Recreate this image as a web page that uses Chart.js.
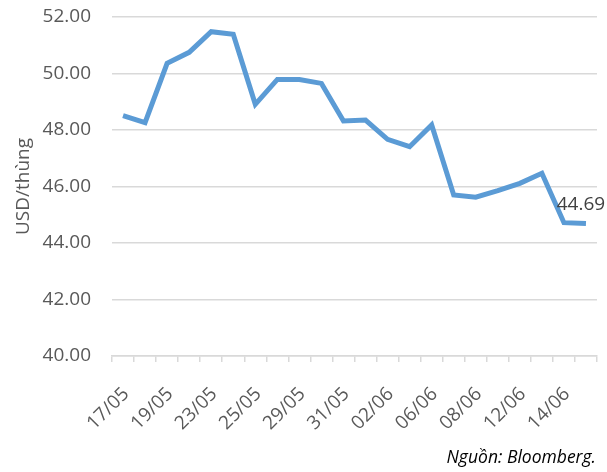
<!DOCTYPE html>
<html>
<head>
<meta charset="utf-8">
<script src="https://cdn.jsdelivr.net/npm/chart.js@4"></script>
<style>
    body { margin: 0; background: #fff; }
    #wrap { position: relative; width: 607px; height: 472px; }
    #source {
        position: absolute; right: 11px; top: 444px;
        font-family: "Open Sans", sans-serif; font-style: italic;
        font-size: 17.5px; color: #000;
    }
</style>
</head>
<body>
<div id="wrap">
    <canvas id="oil-chart" width="607" height="472"></canvas>
    <div id="source">Nguồn: Bloomberg.</div>
</div>
<script>
// Brent price, USD/thùng
const dates = ['17/05', '18/05', '19/05', '22/05', '23/05', '24/05', '25/05', '26/05',
    '29/05', '30/05', '31/05', '01/06', '02/06', '05/06', '06/06', '07/06',
    '08/06', '09/06', '12/06', '13/06', '14/06', '15/06'];
const prices = [48.51, 48.26, 50.36, 50.75, 51.48, 51.39, 48.91, 49.79,
    49.79, 49.65, 48.32, 48.35, 47.67, 47.41, 48.18, 45.70,
    45.62, 45.85, 46.11, 46.47, 44.72, 44.69];
const yTicks = [40, 42, 44, 46, 48, 50, 52];

const textColor = '#595959';
const fontFamily = '"Open Sans", sans-serif';
const fontSize = 19;

// label on the last point only
const lastLabel = {
    id: 'lastLabel',
    afterDatasetsDraw(chart) {
        const meta = chart.getDatasetMeta(0);
        const pt = meta.data[meta.data.length - 1];
        const ctx = chart.ctx;
        ctx.save();
        ctx.font = fontSize + 'px ' + fontFamily;
        ctx.fillStyle = '#404040';
        ctx.textAlign = 'center';
        ctx.textBaseline = 'middle';
        ctx.fillText(prices[prices.length - 1].toFixed(2), pt.x - 5, pt.y - 19);
        ctx.restore();
    }
};

new Chart(document.getElementById('oil-chart'), {
    type: 'line',
    data: {
        labels: dates,
        datasets: [{
            data: prices,
            borderColor: '#5b9bd5',
            borderWidth: 5,
            pointRadius: 0,
            tension: 0,
            fill: false
        }]
    },
    options: {
        responsive: false,
        animation: false,
        layout: { padding: { top: 17, right: 10, left: 0, bottom: 0 } },
        plugins: {
            legend: { display: false },
            tooltip: { enabled: false }
        },
        scales: {
            x: {
                offset: true,
                border: { display: true, color: '#d9d9d9', width: 1.5 },
                grid: {
                    offset: true,
                    drawOnChartArea: false,
                    drawTicks: true,
                    tickLength: 6,
                    lineWidth: 1.5,
                    color: '#d9d9d9'
                },
                ticks: {
                    autoSkip: false,
                    maxRotation: 45,
                    minRotation: 45,
                    padding: 21,
                    labelOffset: 3,
                    color: textColor,
                    font: { family: fontFamily, size: fontSize },
                    callback: (v, i) => (i % 2 === 0 ? dates[i] : '')
                },
                afterFit: scale => {
                    scale.height = 116;
                    scale.paddingLeft = 0;
                    scale.paddingRight = 0;
                }
            },
            y: {
                min: 40,
                max: 52,
                border: { display: false },
                grid: { color: '#d9d9d9', lineWidth: 1.5, drawTicks: false },
                afterBuildTicks: scale => { scale.ticks = yTicks.map(v => ({ value: v })); },
                ticks: {
                    padding: 21,
                    color: textColor,
                    font: { family: fontFamily, size: fontSize },
                    callback: v => v.toFixed(2)
                },
                title: {
                    display: true,
                    text: 'USD/thùng',
                    color: textColor,
                    font: { family: fontFamily, size: fontSize },
                    padding: { top: 12, bottom: 0 }
                },
                afterFit: scale => {
                    scale.width = 112;
                    scale.paddingTop = 0;
                    scale.paddingBottom = 0;
                }
            }
        }
    },
    plugins: [lastLabel]
});
</script>
</body>
</html>
